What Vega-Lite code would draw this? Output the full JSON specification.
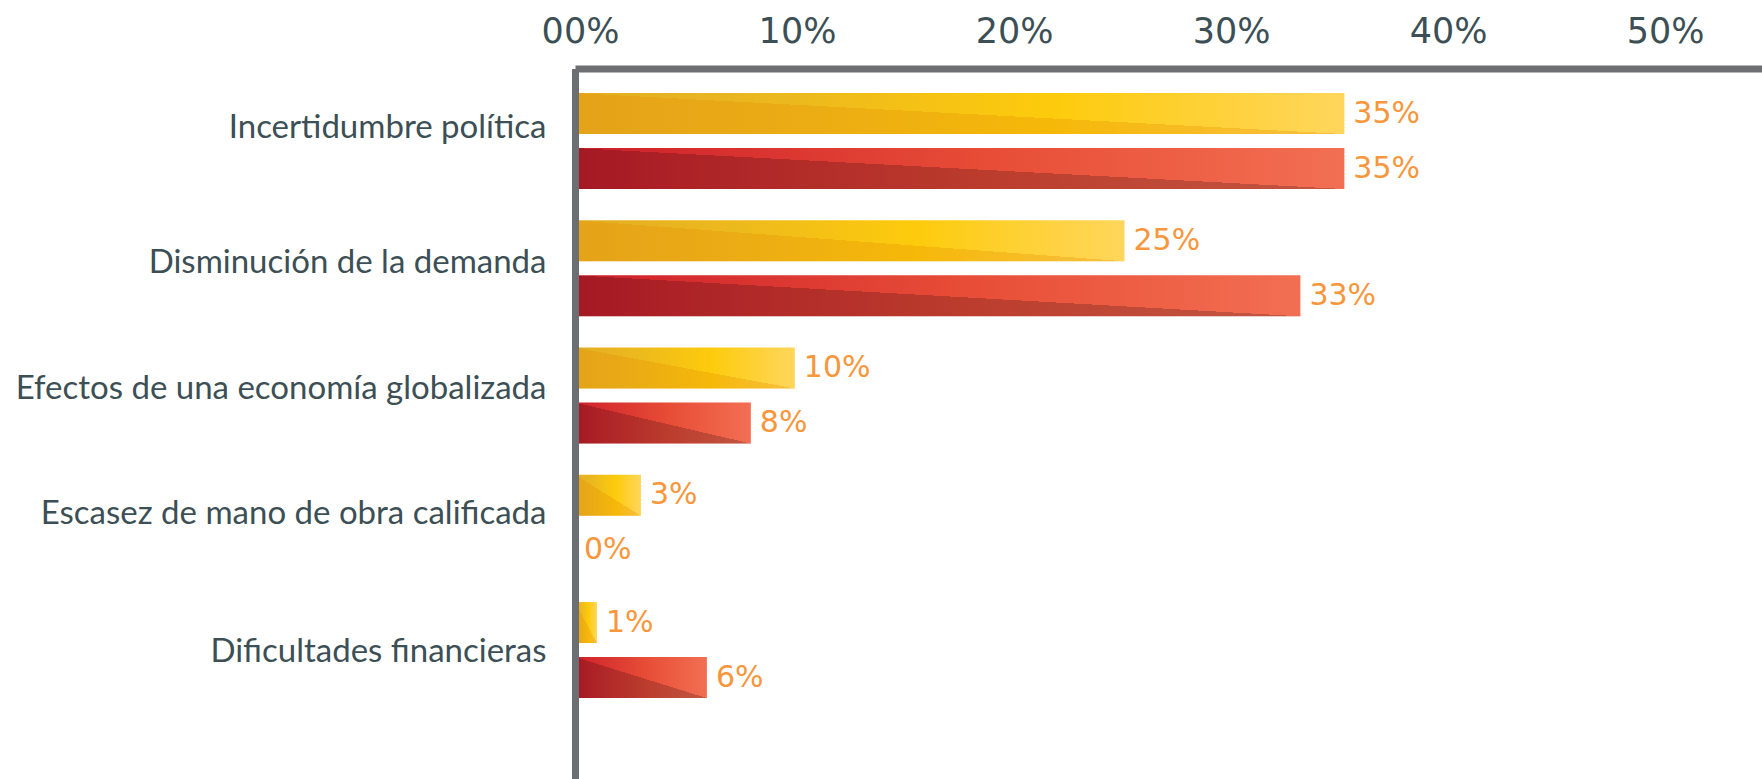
{
  "$schema": "https://vega.github.io/schema/vega-lite/v6.json",
  "autosize": {"type": "none"},
  "padding": {"left": 575, "top": 68.5, "right": 0, "bottom": 0},
  "width": 1187,
  "height": 710.5,
  "background": "white",
  "config": {"view": {"stroke": null}, "font": "Lato"},
  "data": {
    "values": [
      {"categoria": "Incertidumbre política", "serie": "Serie 1", "valor": 35, "etiqueta": "35%"},
      {"categoria": "Incertidumbre política", "serie": "Serie 2", "valor": 35, "etiqueta": "35%"},
      {"categoria": "Disminución de la demanda", "serie": "Serie 1", "valor": 25, "etiqueta": "25%"},
      {"categoria": "Disminución de la demanda", "serie": "Serie 2", "valor": 33, "etiqueta": "33%"},
      {"categoria": "Efectos de una economía globalizada", "serie": "Serie 1", "valor": 10, "etiqueta": "10%"},
      {"categoria": "Efectos de una economía globalizada", "serie": "Serie 2", "valor": 8, "etiqueta": "8%"},
      {"categoria": "Escasez de mano de obra calificada", "serie": "Serie 1", "valor": 3, "etiqueta": "3%"},
      {"categoria": "Escasez de mano de obra calificada", "serie": "Serie 2", "valor": 0, "etiqueta": "0%"},
      {"categoria": "Dificultades financieras", "serie": "Serie 1", "valor": 1, "etiqueta": "1%"},
      {"categoria": "Dificultades financieras", "serie": "Serie 2", "valor": 6, "etiqueta": "6%"}
    ]
  },
  "encoding": {
    "y": {
      "field": "categoria",
      "type": "nominal",
      "sort": null,
      "scale": {"paddingInner": 0, "paddingOuter": 0.2917, "align": 0.12},
      "axis": {
        "title": null,
        "orient": "left",
        "ticks": false,
        "domainColor": "#6D6E71",
        "domainWidth": 7,
        "labelFont": "Lato",
        "labelFontSize": 33,
        "labelColor": "#3C4F55",
        "labelPadding": 29,
        "labelOffset": {"expr": "datum.value == 'Incertidumbre política' ? -13 : datum.value == 'Disminución de la demanda' ? -5 : datum.value == 'Efectos de una economía globalizada' ? -7 : datum.value == 'Escasez de mano de obra calificada' ? -9 : 2"},
        "labelLimit": 0,
        "zindex": 1
      }
    },
    "yOffset": {
      "field": "serie",
      "type": "nominal",
      "scale": {"paddingInner": 0.2545, "paddingOuter": 0.284}
    },
    "x": {
      "field": "valor",
      "type": "quantitative",
      "scale": {"domain": [0, 54.0], "nice": false, "zero": true},
      "axis": {
        "title": null,
        "orient": "top",
        "values": [0, 10, 20, 30, 40, 50],
        "labelExpr": "datum.value == 0 ? '00%' : datum.value + '%'",
        "ticks": false,
        "grid": false,
        "domainColor": "#6D6E71",
        "domainWidth": 7,
        "labelFont": "DejaVu Sans",
        "labelFontSize": 35,
        "labelColor": "#3C4F55",
        "labelPadding": 19,
        "labelOffset": {"expr": "5 - 0.28 * datum.value"},
        "labelFlush": false,
        "zindex": 1
      }
    }
  },
  "layer": [
    {
      "transform": [{"filter": "datum.serie == 'Serie 1'"}],
      "mark": {
        "type": "bar",
        "fill": {
          "gradient": "linear", "x1": 0, "y1": 0, "x2": 1, "y2": 0,
          "stops": [
            {"offset": 0, "color": "#E3AD24"},
            {"offset": 0.3, "color": "#EDBA1D"},
            {"offset": 0.62, "color": "#FDCB0C"},
            {"offset": 1, "color": "#FFD65C"}
          ]
        }
      }
    },
    {
      "transform": [{"filter": "datum.serie == 'Serie 2'"}],
      "mark": {
        "type": "bar",
        "fill": {
          "gradient": "linear", "x1": 0, "y1": 0, "x2": 1, "y2": 0,
          "stops": [
            {"offset": 0, "color": "#C91F2A"},
            {"offset": 0.12, "color": "#D42A2E"},
            {"offset": 0.55, "color": "#E84E37"},
            {"offset": 1, "color": "#F26F53"}
          ]
        }
      }
    },
    {
      "transform": [{"filter": "datum.serie == 'Serie 1'"}],
      "mark": {
        "type": "bar",
        "fill": {
          "gradient": "linear", "x1": 0, "y1": 1, "x2": 1, "y2": 0,
          "stops": [
            {"offset": 0, "color": "rgba(230,140,0,0.3)"},
            {"offset": 0.5, "color": "rgba(230,140,0,0.3)"},
            {"offset": 0.5, "color": "rgba(255,255,255,0)"},
            {"offset": 1, "color": "rgba(255,255,255,0)"}
          ]
        }
      }
    },
    {
      "transform": [{"filter": "datum.serie == 'Serie 2'"}],
      "mark": {
        "type": "bar",
        "fill": {
          "gradient": "linear", "x1": 0, "y1": 1, "x2": 1, "y2": 0,
          "stops": [
            {"offset": 0, "color": "rgba(30,0,10,0.22)"},
            {"offset": 0.5, "color": "rgba(30,0,10,0.22)"},
            {"offset": 0.5, "color": "rgba(255,255,255,0)"},
            {"offset": 1, "color": "rgba(255,255,255,0)"}
          ]
        }
      }
    },
    {
      "mark": {
        "type": "text",
        "align": "left",
        "baseline": "middle",
        "dx": 9,
        "font": "DejaVu Sans",
        "fontSize": 30,
        "color": "#F7963B"
      },
      "encoding": {"text": {"field": "etiqueta"}}
    }
  ]
}
